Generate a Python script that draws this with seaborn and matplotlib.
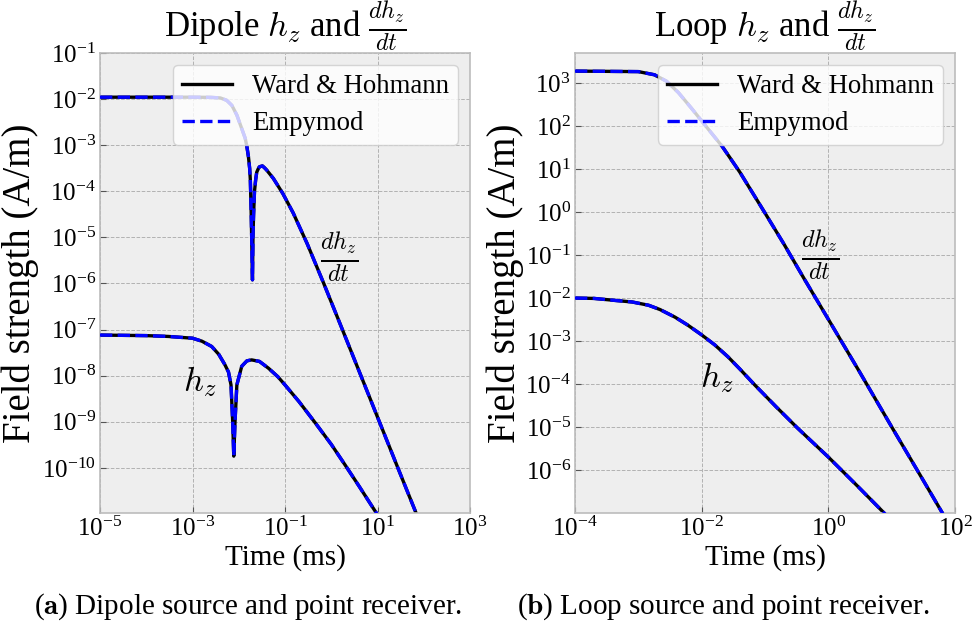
import matplotlib
matplotlib.use("Agg")
import matplotlib.pyplot as plt
import seaborn as sns
import numpy as np
import pandas as pd

# ---- data (time in ms, field in A/m) ----
dip_dhdt_t = [1e-5, 1e-4, 1e-3, 2.5e-3, 4e-3, 5.5e-3, 7.1e-3, 9.1e-3, 0.0117, 0.0138, 0.015,
              0.0162, 0.0172, 0.0178, 0.0186, 0.0192, 0.0198, 0.0203, 0.0209, 0.0219, 0.0232,
              0.0245, 0.0265, 0.028, 0.0325, 0.036, 0.04, 0.056, 0.09, 0.15, 0.3, 0.675, 1.5,
              4.26, 10.5, 30, 71, 120]
dip_dhdt_v = [1.1e-2, 1.1e-2, 1.1e-2, 1.09e-2, 1.06e-2, 9.4e-3, 7.3e-3, 4.5e-3, 2.24e-3, 1.41e-3, 9.3e-4,
              5.6e-4, 3.16e-4, 1.78e-4, 3.2e-5, 6.3e-6, 1.2e-6, 1e-5, 3e-5, 1e-4, 1.78e-4,
              2.6e-4, 3.1e-4, 3.4e-4, 3.55e-4, 3.24e-4, 2.9e-4, 1.9e-4, 8.9e-5, 3.4e-5, 7.4e-6, 1.05e-6, 1.45e-7,
              1.07e-8, 1.12e-9, 8.1e-11, 9.5e-12, 2.6e-12]

dip_hz_t = [1e-5, 1e-4, 3e-4, 1e-3, 1.6e-3, 2.6e-3, 3.7e-3, 5e-3, 6e-3, 6.8e-3, 7.4e-3, 7.8e-3,
            8.3e-3, 9.1e-3, 0.0116, 0.015, 0.019, 0.028, 0.044, 0.07, 0.1, 0.2, 0.45, 1.0, 2.0,
            4.0, 8.9, 15]
dip_hz_v = [7.6e-8, 7.4e-8, 7.1e-8, 6.5e-8, 5.6e-8, 4.3e-8, 2.9e-8, 1.74e-8, 1.2e-8, 6.3e-9, 1e-9, 1.8e-10,
            1e-9, 6.3e-9, 1.6e-8, 2.1e-8, 2.2e-8, 2.04e-8, 1.45e-8, 9.5e-9, 6.3e-9, 2.75e-9, 9.5e-10, 3.24e-10,
            1.15e-10, 4e-11, 1.15e-11, 5.2e-12]

loop_dhdt_t = [1e-4, 1e-3, 1.8e-3, 2.8e-3, 4.3e-3, 6.9e-3, 0.0112, 0.021, 0.04, 0.1, 0.2, 0.41,
               1.0, 3.0, 10.7, 30, 62, 100]
loop_dhdt_v = [1.9e3, 1.85e3, 1.56e3, 1.1e3, 6.0e2, 2.6e2, 1.07e2, 34, 8.5, 0.95, 0.178, 2.9e-2,
               3.2e-3, 2.1e-4, 8.5e-6, 6.5e-7, 1.05e-7, 3.1e-8]

loop_hz_t = [1e-4, 2e-4, 4.3e-4, 8e-4, 1.45e-3, 2.2e-3, 3.8e-3, 6e-3, 0.01, 0.016, 0.026, 0.04,
             0.069, 0.15, 0.33, 1.0, 3.0, 7.6, 12]
loop_hz_v = [1e-2, 9.8e-3, 8.8e-3, 8.1e-3, 6.8e-3, 5.4e-3, 3.59e-3, 2.36e-3, 1.39e-3, 8.2e-4, 4.3e-4, 2.24e-4,
             9.5e-5, 2.95e-5, 9.3e-6, 2e-6, 4e-7, 1e-7, 5e-8]

dip_xticks = [1e-5, 1e-3, 1e-1, 1e1, 1e3]
dip_yticks = [1e-10, 1e-9, 1e-8, 1e-7, 1e-6, 1e-5, 1e-4, 1e-3, 1e-2, 1e-1]
loop_xticks = [1e-4, 1e-2, 1e0, 1e2]
loop_yticks = [1e-6, 1e-5, 1e-4, 1e-3, 1e-2, 1e-1, 1e0, 1e1, 1e2, 1e3]

series_names = ["Ward & Hohmann", "Empymod"]

plt.rcParams["font.family"] = ["Liberation Serif", "DejaVu Serif"]
plt.rcParams["mathtext.fontset"] = "cm"
plt.rcParams["axes.unicode_minus"] = False

fig = plt.figure(figsize=(9.75, 6.33), dpi=100)
ax1 = fig.add_axes([100/975, 120/633, 370/975, 460/633])
ax2 = fig.add_axes([575/975, 120/633, 380/975, 460/633])


def draw(ax, curves):
    first = True
    for t, v in curves:
        df = pd.DataFrame({"t": t, "v": v})
        sns.lineplot(data=df, x="t", y="v", ax=ax, color="black", lw=2.4, sort=False,
                     estimator=None, label=series_names[0] if first else None, zorder=2)
        first = False
    first = True
    for t, v in curves:
        df = pd.DataFrame({"t": t, "v": v})
        sns.lineplot(data=df, x="t", y="v", ax=ax, color="blue", lw=2.4, ls="--", sort=False,
                     estimator=None, label=series_names[1] if first else None, zorder=3)
        first = False


def style(ax, xlim, ylim, xticks, yticks, title, ylab_x):
    ax.set_xscale("log")
    ax.set_yscale("log")
    ax.set_xlim(*xlim)
    ax.set_ylim(*ylim)
    ax.set_facecolor("#eeeeee")
    for s in ax.spines.values():
        s.set_color("#bcbcbc")
        s.set_linewidth(1.2)
    ax.grid(True, color="#b2b2b2", ls="--", lw=0.7)
    ax.set_axisbelow(True)
    ax.set_xticks(xticks)
    ax.set_yticks(yticks)
    ax.minorticks_off()
    ax.tick_params(direction="in", length=4, width=0.8, color="#555555", labelsize=18, pad=3)
    ax.set_xlabel("Time (ms)", fontsize=21, labelpad=2)
    ax.set_ylabel("Field strength (A/m)", fontsize=28)
    ax.yaxis.set_label_coords(ylab_x, 0.5)
    ax.set_title(title, fontsize=25, pad=4)
    leg = ax.legend(loc="upper right", fontsize=19.3, framealpha=0.8, fancybox=True,
                    edgecolor="#cccccc", facecolor="white", handlelength=1.87,
                    borderaxespad=0.45, borderpad=0.33, labelspacing=0.45, handletextpad=0.75)
    leg.set_zorder(5)


draw(ax1, [(dip_dhdt_t, dip_dhdt_v), (dip_hz_t, dip_hz_v)])
style(ax1, (1e-5, 1e3), (1.05e-11, 1e-1), dip_xticks, dip_yticks,
      r"Dipole $h_z$ and $\frac{dh_z}{dt}$", -0.165)
ax1.text(1.5, 10**-5.42, r"$\frac{dh_z}{dt}$", fontsize=25, ha="center", va="center")
ax1.text(1.4e-3, 7.5e-9, r"$h_z$", fontsize=25, ha="center", va="center")

draw(ax2, [(loop_dhdt_t, loop_dhdt_v), (loop_hz_t, loop_hz_v)])
style(ax2, (1e-4, 1e2), (1e-7, 10**3.7), loop_xticks, loop_yticks,
      r"Loop $h_z$ and $\frac{dh_z}{dt}$", -0.135)
ax2.text(0.74, 0.1, r"$\frac{dh_z}{dt}$", fontsize=25, ha="center", va="center")
ax2.text(0.017, 1.4e-4, r"$h_z$", fontsize=25, ha="center", va="center")

fig.text(248/975, 1 - 607/633, r"($\mathbf{a}$) Dipole source and point receiver.",
         fontsize=21, ha="center", va="center")
fig.text(723/975, 1 - 607/633, r"($\mathbf{b}$) Loop source and point receiver.",
         fontsize=21, ha="center", va="center")

fig.savefig("out.png", dpi=100)
